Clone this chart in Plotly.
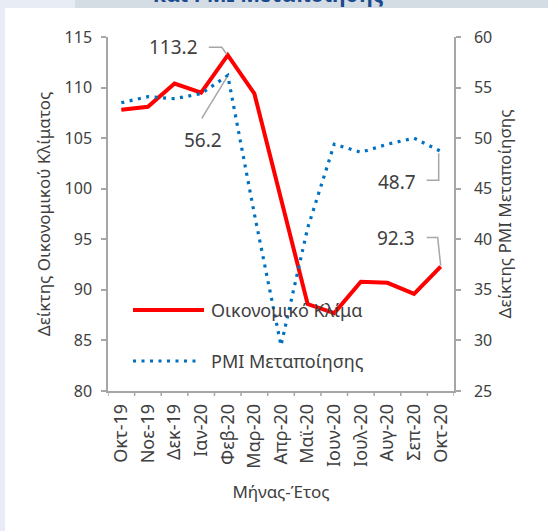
import plotly.graph_objects as go

# Monthly series, Oct 2019 - Oct 2020
months = ["Οκτ-19", "Νοε-19", "Δεκ-19", "Ιαν-20", "Φεβ-20", "Μαρ-20", "Απρ-20",
          "Μαϊ-20", "Ιουν-20", "Ιουλ-20", "Αυγ-20", "Σεπ-20", "Οκτ-20"]
esi = [107.8, 108.1, 110.4, 109.5, 113.2, 109.4, None, 88.6, 87.7, 90.8, 90.7, 89.6, 92.3]
pmi = [53.5, 54.1, 53.9, 54.4, 56.2, 42.5, 29.5, 41.1, 49.4, 48.6, 49.4, 50.0, 48.7]

esi_name = "Οικονομικό Κλίμα"
pmi_name = "PMI Μεταποίησης"

FONT = "Noto Sans"
TXT = "#404040"
AX = "#a6a6a6"
RED = "#ff0000"
BLUE = "#0070c0"

W, H = 548, 531
L, R, T, B = 108, 94, 37, 140
PW, PH = W - L - R, H - T - B

def px(x):
    return (x - L) / PW

def py(y):
    return 1 - (y - T) / PH

x_idx = list(range(len(months)))

fig = go.Figure()
fig.add_trace(go.Scatter(x=x_idx, y=esi, mode="lines", name=esi_name,
                         line=dict(color=RED, width=4), connectgaps=True,
                         showlegend=False))
fig.add_trace(go.Scatter(x=x_idx, y=pmi, mode="lines", name=pmi_name, yaxis="y2",
                         line=dict(color=BLUE, width=3.2, dash="3px,5.5px"),
                         showlegend=False))

shapes = []
annots = []

# page decoration: side strip and header band
shapes.append(dict(type="rect", xref="paper", yref="paper", x0=px(0), x1=px(5),
                   y0=py(H), y1=py(0), fillcolor="#e8edf5", line_width=0, layer="below"))
shapes.append(dict(type="rect", xref="paper", yref="paper", x0=px(0), x1=px(75),
                   y0=py(8), y1=py(0), fillcolor="#e8edf5", line_width=0, layer="below"))
shapes.append(dict(type="rect", xref="paper", yref="paper", x0=px(75), x1=px(W),
                   y0=py(8), y1=py(0), fillcolor="#d4dce4", line_width=0, layer="below"))
annots.append(dict(text="<b>και PMI Μεταποίησης</b>", xref="paper", yref="paper",
                   x=px(268), y=py(-6), xanchor="center", yanchor="middle",
                   showarrow=False, font=dict(family=FONT, size=21, color="#1b4a8f")))

# value labels with leader lines
CX = PW / len(months)       # pixels per category
CY = PH / 35.0              # pixels per unit (both axes span 35)

def leader(i, v, yref, pts):
    path = []
    for k, (dx, dy) in enumerate(pts):
        xx = i + dx / CX
        yy = v - dy / CY
        path.append(("M" if k == 0 else "L") + f" {xx:.4f},{yy:.4f}")
    shapes.append(dict(type="path", xref="x", yref=yref, path=" ".join(path),
                       line=dict(color=AX, width=1.5)))

def label(i, v, yref, dx, dy):
    annots.append(dict(text=f"{v:.1f}", xref="x", yref=yref, x=i, y=v,
                       xshift=dx, yshift=-dy, showarrow=False,
                       font=dict(family=FONT, size=19, color=TXT)))

i_feb, i_last = 4, 12
leader(i_feb, esi[i_feb], "y", [(-19, -8), (-6, -8), (-1, -1)])
label(i_feb, esi[i_feb], "y", -54, -8)
leader(i_feb, pmi[i_feb], "y2", [(-26, 43), (-1, 2)])
label(i_feb, pmi[i_feb], "y2", -25, 65)
leader(i_last, pmi[i_last], "y2", [(-14, 29), (-2, 29), (-2, 2)])
label(i_last, pmi[i_last], "y2", -44, 31)
leader(i_last, esi[i_last], "y", [(-14, -29), (-3, -29), (0, -1)])
label(i_last, esi[i_last], "y", -45, -29)

# legend drawn as samples + text
shapes.append(dict(type="line", xref="paper", yref="paper", x0=px(133), x1=px(204),
                   y0=py(310), y1=py(310), line=dict(color=RED, width=4)))
shapes.append(dict(type="line", xref="paper", yref="paper", x0=px(133), x1=px(200),
                   y0=py(361), y1=py(361), line=dict(color=BLUE, width=3.2, dash="3px,5.5px")))
annots.append(dict(text=esi_name, xref="paper", yref="paper", x=px(209), y=py(310),
                   xanchor="left", yanchor="middle", showarrow=False,
                   font=dict(family=FONT, size=18, color=TXT)))
annots.append(dict(text=pmi_name, xref="paper", yref="paper", x=px(209), y=py(361),
                   xanchor="left", yanchor="middle", showarrow=False,
                   font=dict(family=FONT, size=18, color=TXT)))

fig.update_layout(
    width=W, height=H,
    margin=dict(l=L, r=R, t=T, b=B, pad=0),
    paper_bgcolor="white", plot_bgcolor="white",
    font=dict(family=FONT, color=TXT),
    shapes=shapes, annotations=annots,
    xaxis=dict(type="linear", range=[-0.5, len(months) - 0.5],
               tickmode="array", tickvals=x_idx, ticktext=months, tickangle=-90,
               ticks="", showline=True, linecolor=AX, linewidth=1.5,
               showgrid=False, zeroline=False,
               tickfont=dict(family=FONT, size=18, color=TXT),
               ticklabelstandoff=4,
               title=dict(text="Μήνας-Έτος", standoff=18,
                          font=dict(family=FONT, size=17, color=TXT))),
    yaxis=dict(range=[80, 115], dtick=5, ticks="outside", ticklen=5, tickwidth=1.5,
               tickcolor=AX, showline=True, linecolor=AX, linewidth=1.5,
               showgrid=False, zeroline=False,
               tickfont=dict(family=FONT, size=16, color=TXT), ticklabelstandoff=6,
               title=dict(text="Δείκτης Οικονομικού Κλίματος", standoff=10,
                          font=dict(family=FONT, size=17, color=TXT))),
    yaxis2=dict(range=[25, 60], dtick=5, overlaying="y", side="right",
                ticks="outside", ticklen=5, tickwidth=1.5, tickcolor=AX,
                showline=True, linecolor=AX, linewidth=1.5,
                showgrid=False, zeroline=False,
                tickfont=dict(family=FONT, size=16, color=TXT), ticklabelstandoff=10,
                title=dict(text="Δείκτης PMI Μεταποίησης", standoff=8,
                           font=dict(family=FONT, size=17, color=TXT))),
)

# category boundary ticks on the x axis
for k in range(len(months) + 1):
    shapes.append(dict(type="line", xref="x", yref="paper", x0=k - 0.5, x1=k - 0.5,
                       y0=0, y1=-5 / PH, line=dict(color=AX, width=1.5)))
fig.update_layout(shapes=shapes)

fig.write_html("out.html")
